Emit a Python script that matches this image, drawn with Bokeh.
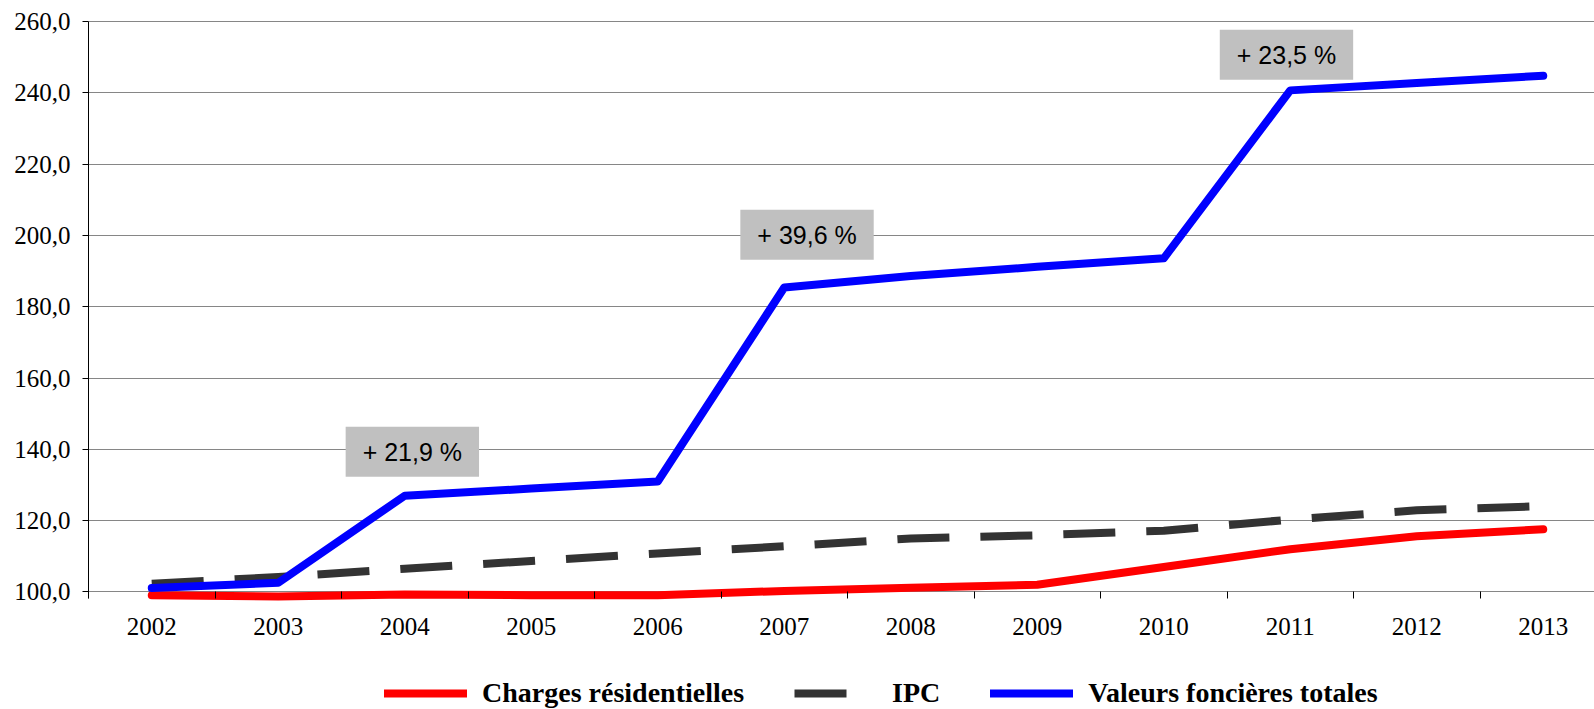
from bokeh.plotting import figure
from bokeh.models import Range1d, FixedTicker, Label, Legend, LegendItem
from bokeh.embed import file_html
from bokeh.resources import INLINE

years = ["2002", "2003", "2004", "2005", "2006", "2007", "2008", "2009", "2010", "2011", "2012", "2013"]
charges = [99.1, 98.7, 99.3, 99.1, 99.1, 100.3, 101.2, 102.0, 107.0, 112.0, 115.6, 117.6]
ipc = [102.3, 104.2, 106.5, 108.7, 110.8, 112.8, 115.0, 115.9, 117.2, 120.3, 122.9, 124.1]
valeurs = [101.1, 102.6, 127.0, 129.0, 131.0, 185.4, 188.6, 191.2, 193.6, 240.7, 242.8, 244.8]
y_ticks = [100, 120, 140, 160, 180, 200, 220, 240, 260]
annotations = ["+ 21,9 %", "+ 39,6 %", "+ 23,5 %"]
annot_x = [2.06, 5.18, 8.97]
annot_y = [139.3, 200.2, 250.7]

xs = list(range(len(years)))

p = figure(width=1594, height=709, output_backend="svg", toolbar_location=None,
           x_range=Range1d(-0.5, 11.405), y_range=Range1d(67.03, 260.3),
           min_border_left=88, min_border_right=0, min_border_top=20, min_border_bottom=0)
p.outline_line_color = None
p.background_fill_color = "white"

# x axis drawn at y = 100
p.xaxis.fixed_location = 100
p.xaxis.ticker = FixedTicker(ticks=xs, minor_ticks=[i - 0.5 for i in range(len(years) + 1)])
p.xaxis.major_label_overrides = {i: y for i, y in enumerate(years)}
p.xaxis.axis_line_color = None
p.xaxis.major_tick_in = 0
p.xaxis.major_tick_out = 0
p.xaxis.minor_tick_in = 0
p.xaxis.minor_tick_out = 7
p.xaxis.minor_tick_line_color = "black"
p.xaxis.major_label_standoff = 19
p.xaxis.major_label_text_font = "Liberation Serif"
p.xaxis.major_label_text_font_size = "25px"
p.xaxis.major_label_text_color = "black"

p.yaxis.ticker = FixedTicker(ticks=y_ticks, minor_ticks=[])
p.yaxis.major_label_overrides = {v: f"{v:.1f}".replace(".", ",") for v in y_ticks}
p.yaxis.bounds = (98.2, 260)
p.yaxis.axis_line_color = "black"
p.yaxis.major_tick_in = 0
p.yaxis.major_tick_out = 6
p.yaxis.major_tick_line_color = "black"
p.yaxis.minor_tick_line_color = None
p.yaxis.major_label_standoff = 12
p.yaxis.major_label_text_font = "Liberation Serif"
p.yaxis.major_label_text_font_size = "25px"
p.yaxis.major_label_text_color = "black"

p.xgrid.visible = False
p.ygrid.ticker = FixedTicker(ticks=y_ticks)
p.ygrid.grid_line_color = "#868686"
p.ygrid.grid_line_width = 1

r_red = p.line(xs, charges, line_color="#FF0000", line_width=8, line_cap="round", line_join="round")
r_ipc = p.line(xs, ipc, line_color="#333333", line_width=8, line_dash="52 31", line_cap="butt", line_join="round")
r_blue = p.line(xs, valeurs, line_color="#0000FF", line_width=8, line_cap="round", line_join="round")

for t, ax, ay in zip(annotations, annot_x, annot_y):
    p.add_layout(Label(x=ax, y=ay, text=t, text_align="center", text_baseline="middle",
                       text_font="Liberation Sans", text_font_size="25px", text_color="black",
                       background_fill_color="#C0C0C0",
                       padding=dict(left=17, right=17, top=11, bottom=11)))

legend = Legend(items=[LegendItem(label="Charges résidentielles", renderers=[r_red]),
                       LegendItem(label="IPC", renderers=[r_ipc]),
                       LegendItem(label="Valeurs foncières totales", renderers=[r_blue])],
                orientation="horizontal", location=(296, 0), glyph_width=83, glyph_height=20,
                label_standoff=15, spacing=50, padding=0, margin=0,
                border_line_color=None, background_fill_alpha=0,
                label_text_font="Liberation Serif", label_text_font_style="bold",
                label_text_font_size="28px", label_text_color="black")
p.add_layout(legend, "center")

open("out.html", "w").write(file_html(p, INLINE))
